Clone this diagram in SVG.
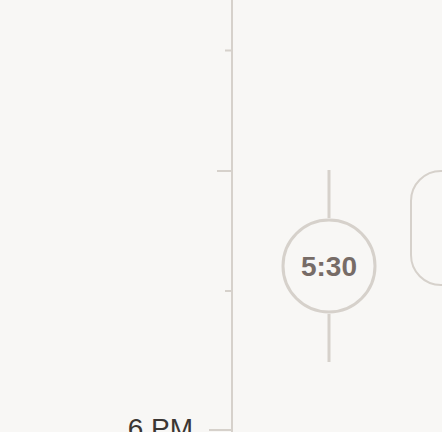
<svg xmlns="http://www.w3.org/2000/svg" width="442" height="432" viewBox="0 0 442 432">
<style>
.ln{stroke:#d6d1cb;fill:none}
.lbl{font-family:"Liberation Sans",Arial,sans-serif;font-size:28px}
</style>
<rect width="442" height="432" fill="#f8f7f5"/>
<g id="axis">
<line class="ln" x1="232" y1="0" x2="232" y2="432" stroke-width="2"/>
<line class="ln" x1="225" y1="50.5" x2="232" y2="50.5" stroke-width="2"/>
<line class="ln" x1="217" y1="171" x2="232" y2="171" stroke-width="2"/>
<line class="ln" x1="225" y1="291" x2="232" y2="291" stroke-width="2"/>
<line class="ln" x1="209" y1="430" x2="232" y2="430" stroke-width="2"/>
<text class="lbl" x="193" y="438" text-anchor="end" fill="#3b3633">6 PM</text>
</g>
<g id="connectors">
<line class="ln" x1="329" y1="170" x2="329" y2="218" stroke-width="3"/>
<line class="ln" x1="329" y1="314" x2="329" y2="362" stroke-width="3"/>
</g>
<g id="node-530">
<circle class="ln" cx="329" cy="266" r="46" stroke-width="3"/>
<text class="lbl" x="329" y="276" text-anchor="middle" font-weight="bold" fill="#776c67">5:30</text>
</g>
<g id="node-card">
<rect class="ln" x="411" y="171" width="80" height="114" rx="30" stroke-width="2"/>
</g>
</svg>
